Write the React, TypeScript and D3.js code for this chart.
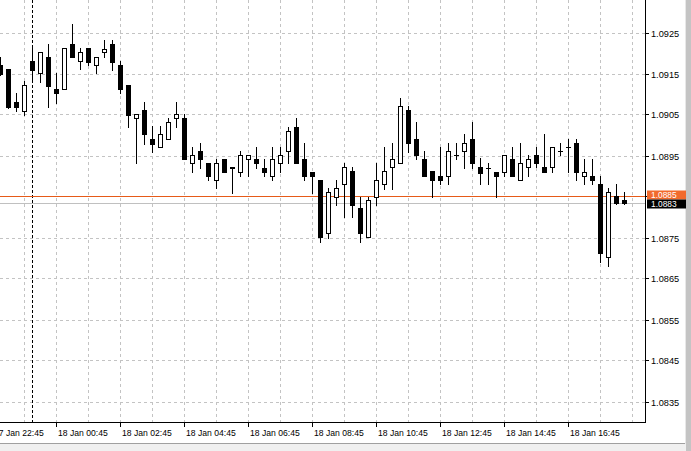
import React from 'react';
import * as d3 from 'd3';

// EURUSD M15, 17 Jan 2024 23:00 UTC onwards
const START = Date.UTC(2024, 0, 17, 23, 0);
const STEP_MS = 15 * 60 * 1000;

const opens = [
  1.09170, 1.09161, 1.09080, 1.09058, 1.09180, 1.09151, 1.09190, 1.09112, 1.09112, 1.09222,
  1.09180, 1.09212, 1.09170, 1.09202, 1.09222, 1.09170, 1.09122, 1.09041, 1.09061, 1.08990,
  1.08970, 1.08990, 1.09041, 1.09041, 1.08931, 1.08961, 1.08931, 1.08890, 1.08941, 1.08922,
  1.08909, 1.08941, 1.08941, 1.08919, 1.08900, 1.08931, 1.08961, 1.09019, 1.08941, 1.08909,
  1.08890, 1.08761, 1.08848, 1.08880, 1.08912, 1.08822, 1.08751, 1.08848, 1.08880, 1.08922,
  1.08931, 1.09061, 1.08990, 1.08941, 1.08912, 1.08900, 1.08900, 1.08951, 1.08961, 1.08990,
  1.08922, 1.08919, 1.08909, 1.08909, 1.08941, 1.08890, 1.08922, 1.08951, 1.08922, 1.08922,
  1.08961, 1.08970, 1.08980, 1.08900, 1.08900, 1.08880, 1.08702, 1.08851, 1.08841,
];
const highs = [
  1.09190, 1.09161, 1.09102, 1.09131, 1.09214, 1.09202, 1.09222, 1.09151, 1.09212, 1.09270,
  1.09212, 1.09212, 1.09190, 1.09231, 1.09231, 1.09180, 1.09122, 1.09051, 1.09080, 1.09022,
  1.09022, 1.09041, 1.09080, 1.09051, 1.08970, 1.08980, 1.08931, 1.08941, 1.08941, 1.08922,
  1.08961, 1.08951, 1.08970, 1.08941, 1.08970, 1.08970, 1.09019, 1.09041, 1.08980, 1.08909,
  1.08890, 1.08870, 1.08890, 1.08931, 1.08922, 1.08848, 1.08848, 1.08931, 1.08970, 1.08980,
  1.09090, 1.09070, 1.09031, 1.08961, 1.08912, 1.08970, 1.08980, 1.08980, 1.09002, 1.09031,
  1.08943, 1.08931, 1.08909, 1.08951, 1.08970, 1.08980, 1.08951, 1.08970, 1.09002, 1.08970,
  1.08980, 1.08990, 1.08990, 1.08941, 1.08941, 1.08900, 1.08870, 1.08880, 1.08861,
];
const lows = [
  1.09146, 1.09065, 1.09058, 1.09048, 1.09134, 1.09129, 1.09068, 1.09078, 1.09112, 1.09190,
  1.09161, 1.09170, 1.09151, 1.09190, 1.09158, 1.09102, 1.09019, 1.08931, 1.08978, 1.08958,
  1.08970, 1.08990, 1.09019, 1.08941, 1.08909, 1.08919, 1.08890, 1.08870, 1.08909, 1.08858,
  1.08900, 1.08900, 1.08919, 1.08900, 1.08890, 1.08909, 1.08931, 1.08931, 1.08890, 1.08858,
  1.08739, 1.08748, 1.08829, 1.08800, 1.08800, 1.08739, 1.08751, 1.08829, 1.08868, 1.08868,
  1.08931, 1.08958, 1.08941, 1.08900, 1.08848, 1.08880, 1.08880, 1.08941, 1.08919, 1.08919,
  1.08880, 1.08880, 1.08848, 1.08900, 1.08900, 1.08890, 1.08900, 1.08922, 1.08909, 1.08909,
  1.08951, 1.08909, 1.08890, 1.08880, 1.08880, 1.08690, 1.08680, 1.08831, 1.08831,
];
const closes = [
  1.09148, 1.09068, 1.09068, 1.09122, 1.09158, 1.09202, 1.09119, 1.09102, 1.09212, 1.09190,
  1.09202, 1.09178, 1.09190, 1.09209, 1.09178, 1.09112, 1.09048, 1.09051, 1.09002, 1.08978,
  1.09002, 1.09031, 1.09051, 1.08941, 1.08951, 1.08941, 1.08900, 1.08931, 1.08909, 1.08920,
  1.08951, 1.08951, 1.08931, 1.08909, 1.08941, 1.08951, 1.09009, 1.08931, 1.08900, 1.08900,
  1.08751, 1.08861, 1.08870, 1.08922, 1.08829, 1.08761, 1.08841, 1.08890, 1.08912, 1.08941,
  1.09070, 1.08980, 1.08951, 1.08900, 1.08890, 1.08890, 1.08961, 1.08951, 1.08980, 1.08931,
  1.08907, 1.08919, 1.08900, 1.08951, 1.08900, 1.08931, 1.08941, 1.08931, 1.08909, 1.08970,
  1.08961, 1.08970, 1.08909, 1.08909, 1.08890, 1.08712, 1.08861, 1.08833, 1.08833,
];

const priceTicks = [1.0835, 1.0845, 1.0855, 1.0865, 1.0875, 1.0885, 1.0895, 1.0905, 1.0915, 1.0925];
const timeTicks = [
  '2024-01-17T22:45:00Z', '2024-01-18T00:45:00Z', '2024-01-18T02:45:00Z', '2024-01-18T04:45:00Z',
  '2024-01-18T06:45:00Z', '2024-01-18T08:45:00Z', '2024-01-18T10:45:00Z', '2024-01-18T12:45:00Z',
  '2024-01-18T14:45:00Z', '2024-01-18T16:45:00Z',
];
const daySeparator = '2024-01-18T00:00:00Z';
const askPrice = 1.08851;
const bidPrice = 1.08833;

const W = 691;
const H = 451;
const PLOT_R = 645;
const PLOT_B = 422;
const FONT = '"Liberation Sans", Arial, sans-serif';

export default function App() {
  const times = opens.map((_, i) => new Date(START + i * STEP_MS));
  const x = d3.scaleUtc().domain([times[0], times[times.length - 1]]).range([0, 624]);
  const y = d3.scaleLinear().domain([1.0835, 1.0925]).range([401.5, 32.5]);
  const fmtTime = d3.utcFormat('%d %b %H:%M');
  const fmtPrice = d3.format('.4f');

  const hourGrid = d3.utcHour
    .range(new Date(Date.UTC(2024, 0, 17, 22, 0)), new Date(Date.UTC(2024, 0, 18, 20, 0)))
    .map((d) => new Date(d.getTime() + 45 * 60000))
    .filter((d) => x(d) >= 0 && x(d) < PLOT_R);

  const sepX = Math.round(x(new Date(daySeparator))) + 0.5;
  const askY = Math.round(y(askPrice)) + 0.5;
  const bidY = Math.round(y(bidPrice)) + 0.5;

  return (
    <svg width={W} height={H} style={{ position: 'absolute', left: 0, top: 0, display: 'block' }}
      fontFamily={FONT}>
      <rect x={0} y={0} width={W} height={H} fill="#ffffff" />
      {/* frame at bottom and right */}
      <rect x={0} y={444} width={W} height={H - 444} fill="#f0f0f0" />
      <line x1={0} x2={W} y1={443.5} y2={443.5} stroke="#a0a0a0" />
      <rect x={686} y={0} width={W - 686} height={H} fill="#c4c4c4" />
      <line x1={685.5} x2={685.5} y1={0} y2={444} stroke="#e8e8e8" />

      {/* grid */}
      <g stroke="#c3c3c3" strokeWidth={1} strokeDasharray="3,3">
        {priceTicks.map((p) => (
          <line key={'h' + p} x1={0} x2={PLOT_R} y1={Math.round(y(p)) + 0.5} y2={Math.round(y(p)) + 0.5} />
        ))}
        {hourGrid.map((d) => (
          <line key={'v' + d.getTime()} x1={Math.round(x(d)) + 0.5} x2={Math.round(x(d)) + 0.5} y1={0} y2={PLOT_B} />
        ))}
      </g>
      {/* period separator */}
      <line x1={sepX} x2={sepX} y1={0} y2={PLOT_B} stroke="#000" strokeDasharray="3,2" />

      {/* price lines */}
      <line x1={0} x2={PLOT_R} y1={bidY} y2={bidY} stroke="#c0c0c0" />
      <line x1={0} x2={PLOT_R} y1={askY} y2={askY} stroke="#e65a18" />

      {/* candles */}
      <g>
        {times.map((t, i) => {
          const cx = Math.round(x(t));
          const o = opens[i], c = closes[i], h = highs[i], l = lows[i];
          const top = Math.round(y(Math.max(o, c)));
          const bot = Math.round(y(Math.min(o, c)));
          const bull = c > o;
          const hy = Math.round(y(h));
          const ly = Math.round(y(l));
          return (
            <g key={i}>
              <line x1={cx + 0.5} x2={cx + 0.5} y1={hy} y2={ly + 1} stroke="#000" />
              {bot - top >= 1 ? (
                <rect x={cx - 1.5} y={top + 0.5} width={4} height={bot - top}
                  fill={bull ? '#fff' : '#000'} stroke="#000" />
              ) : (
                <line x1={cx - 2} x2={cx + 3} y1={top + 0.5} y2={top + 0.5} stroke="#000" />
              )}
            </g>
          );
        })}
      </g>

      {/* axes */}
      <line x1={PLOT_R + 0.5} x2={PLOT_R + 0.5} y1={0} y2={PLOT_B + 1} stroke="#000" />
      <line x1={0} x2={PLOT_R + 1} y1={PLOT_B + 0.5} y2={PLOT_B + 0.5} stroke="#000" />

      {/* y axis labels (the one under the ask label is covered by it) */}
      <g fontSize={9.2} fill="#000">
        {priceTicks.map((p) => {
          const yy = Math.round(y(p)) + 0.5;
          const covered = fmtPrice(p) === fmtPrice(askPrice);
          return (
            <g key={'yl' + p}>
              <line x1={PLOT_R + 1} x2={PLOT_R + 4} y1={yy} y2={yy} stroke="#000" />
              {!covered && <text x={651} y={yy + 3.5}>{fmtPrice(p)}</text>}
            </g>
          );
        })}
      </g>

      {/* x axis labels */}
      <g fontSize={8.6} fill="#000">
        {timeTicks.map((s) => {
          const d = new Date(s);
          const xx = Math.round(x(d)) + 0.5;
          return (
            <g key={'xl' + s}>
              <line x1={xx} x2={xx} y1={PLOT_B + 1} y2={PLOT_B + 5} stroke="#000" />
              <text x={xx + 1.5} y={435.5}>{fmtTime(d)}</text>
            </g>
          );
        })}
      </g>

      {/* price labels */}
      <rect x={647} y={190.5} width={39} height={9} fill="#f26a2c" />
      <text x={651} y={198} fontSize={8.4} fill="#ffffff">{fmtPrice(askPrice)}</text>
      <rect x={647} y={199.5} width={39} height={9} fill="#000000" />
      <text x={651} y={207} fontSize={8.4} fill="#ffffff">{fmtPrice(bidPrice)}</text>
    </svg>
  );
}
